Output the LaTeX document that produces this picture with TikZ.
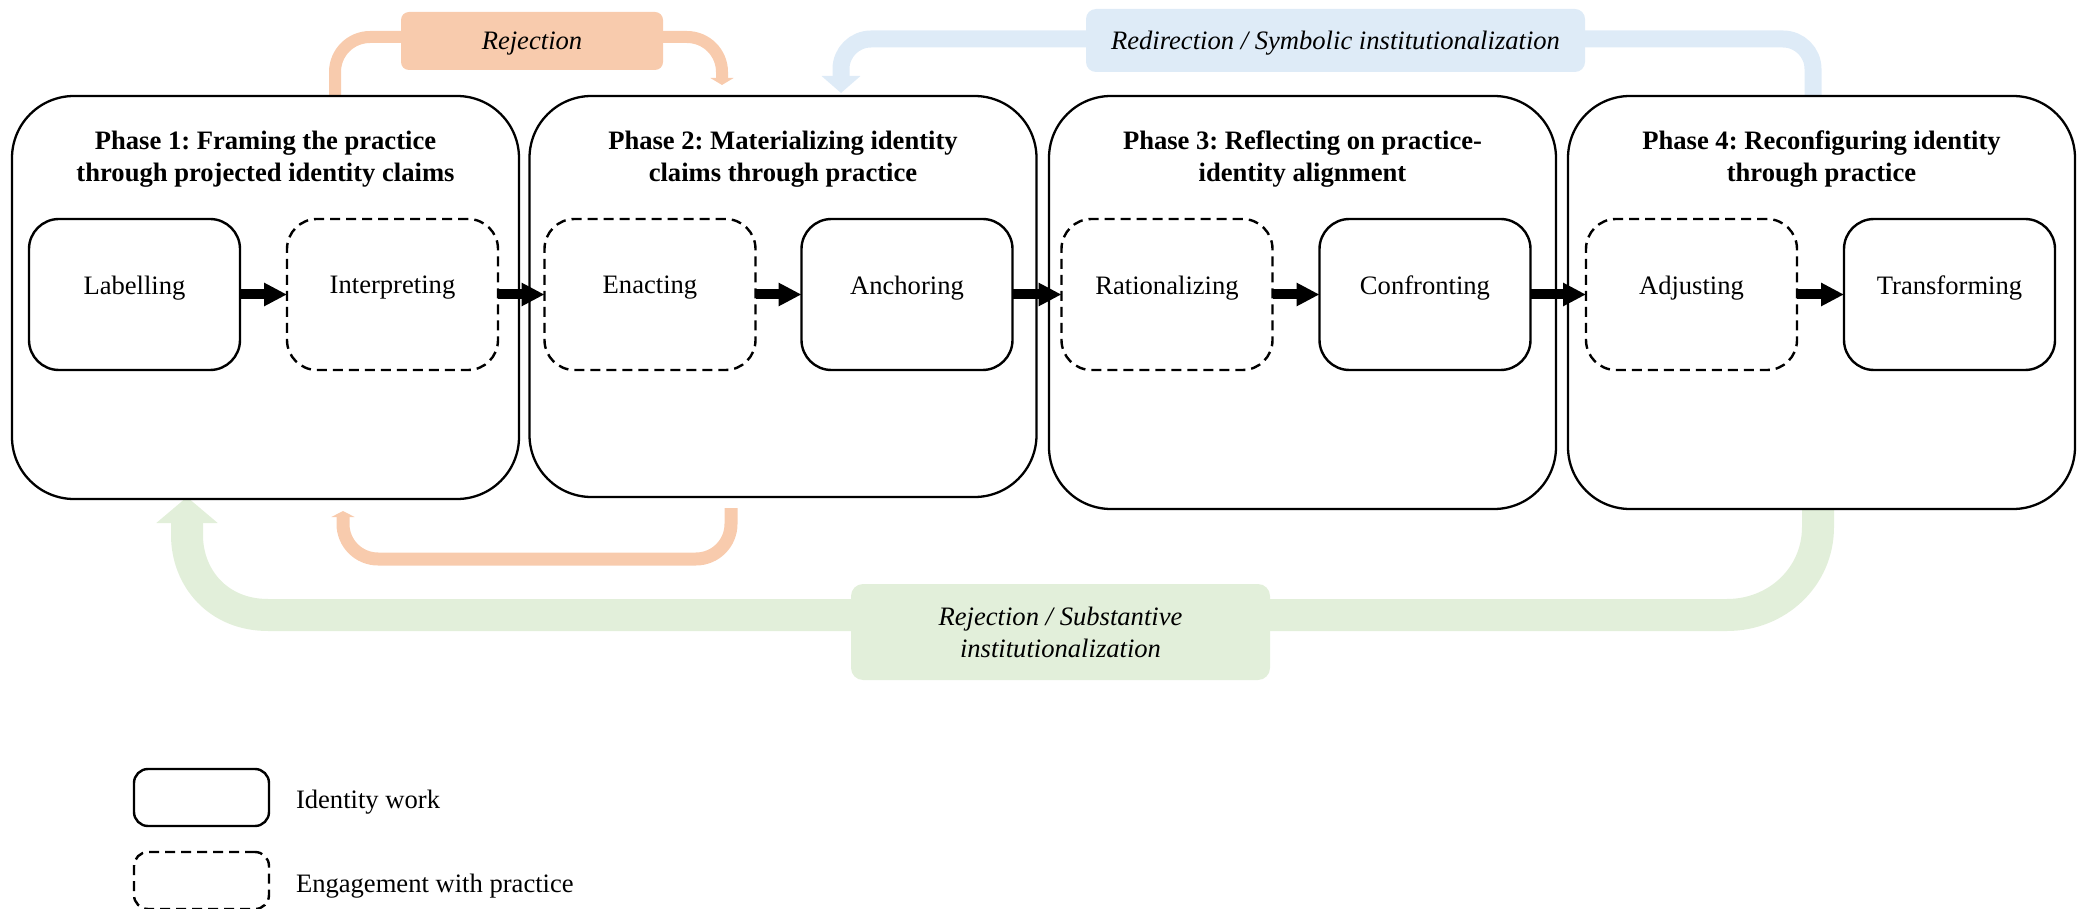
\documentclass[tikz,border=0pt]{standalone}
\usepackage{fontspec}
\setmainfont{Liberation Serif}
\usetikzlibrary{arrows.meta,calc}
\definecolor{orng}{HTML}{F8CBAD}
\definecolor{blu}{HTML}{DEEBF7}
\definecolor{grn}{HTML}{E2EFDA}
\pgfdeclarelayer{bg}
\pgfsetlayers{bg,main}
\begin{document}
\frenchspacing
\begin{tikzpicture}[x=0.5pt,y=-0.5pt,
  every node/.style={font=\fontsize{13.3pt}{16pt}\selectfont, inner sep=0pt, outer sep=0pt},
  phasebox/.style={draw, line width=1.15pt, fill=white, rounded corners=31pt, minimum width=253.5pt},
  title/.style={font=\fontsize{13.3pt}{16pt}\selectfont\bfseries, align=center},
  idbox/.style={draw, line width=1.2pt, fill=white, rounded corners=15pt, minimum width=105.5pt, minimum height=75.5pt},
  engbox/.style={idbox, dash pattern=on 5pt off 3pt},
  blk/.style={line width=5pt, -{Triangle[length=11.5pt,width=11pt]}},
  lbl/.style={},
  ilbl/.style={font=\fontsize{13.3pt}{16pt}\selectfont\itshape, align=center}
]
\useasboundingbox (0,0) rectangle (2085,909);

% phase boxes
\node[phasebox, minimum height=201.5pt] (p1) at (265.5,297.5) {};
\node[phasebox, minimum height=200.5pt] (p2) at (783,296.5) {};
\node[phasebox, minimum height=206.5pt] (p3) at (1302.5,302.5) {};
\node[phasebox, minimum height=206.5pt] (p4) at (1821.5,302.5) {};

\node[title] (t1) at (265.5,159) {Phase 1: Framing the practice\\through projected identity claims};
\node[title] (t2) at (783,159) {Phase 2: Materializing identity\\claims through practice};
\node[title] (t3) at (1302.5,159) {Phase 3: Reflecting on practice-\\identity alignment};
\node[title] (t4) at (1821.5,159) {Phase 4: Reconfiguring identity\\through practice};

% inner boxes
\node[idbox]  (lab) at (134.5,294.5) {};
\node[engbox] (int) at (392.5,294.5) {};
\node[engbox] (ena) at (650,294.5) {};
\node[idbox]  (anc) at (907,294.5) {};
\node[engbox] (rat) at (1167,294.5) {};
\node[idbox]  (con) at (1425,294.5) {};
\node[engbox] (adj) at (1691.5,294.5) {};
\node[idbox]  (tra) at (1949.5,294.5) {};

\node[lbl] (lab-t) at (134.5,288) {Labelling};
\node[lbl] (int-t) at (392.5,288) {Interpreting};
\node[lbl] (ena-t) at (650,288) {Enacting};
\node[lbl] (anc-t) at (907,288) {Anchoring};
\node[lbl] (rat-t) at (1167,288) {Rationalizing};
\node[lbl] (con-t) at (1425,288) {Confronting};
\node[lbl] (adj-t) at (1691.5,288) {Adjusting};
\node[lbl] (tra-t) at (1949.5,288) {Transforming};

\draw[blk] (lab.east) -- (int.west);
\draw[blk] (int.east) -- (ena.west);
\draw[blk] (ena.east) -- (anc.west);
\draw[blk] (anc.east) -- (rat.west);
\draw[blk] (rat.east) -- (con.west);
\draw[blk] (con.east) -- (adj.west);
\draw[blk] (adj.east) -- (tra.west);

% feedback bands
\begin{pgfonlayer}{bg}
\draw[orng, line width=6pt, rounded corners=17.5pt, -{Triangle[length=3.5pt,width=11.5pt]}]
  ($(p1.north)+(69.5,4)$) -- (335,37) -- (722,37) -- ($(p2.north)+(-61,-11)$);
\draw[orng, line width=6.5pt, rounded corners=17.5pt, -{Triangle[length=3pt,width=11.5pt]}]
  ($(p2.south)+(-52,11)$) -- (731,559) -- (343,559) -- ($(p1.south)+(77.5,12)$);
\draw[blu, line width=8.5pt, rounded corners=15pt, -{Triangle[length=8.5pt,width=19pt]}]
  ($(p4.north)+(-8.5,4)$) -- (1813,39) -- (841,39) -- ($(p2.north)+(58,-3)$);
\draw[grn, line width=16pt, -{Triangle[length=13pt,width=30pt]}]
  ($(p4.south)+(-3.5,-4)$) -- (1818,527) .. controls (1818,577) and (1777,615) .. (1727,615)
  -- (268,615) .. controls (218,615) and (187,578) .. (187,535) -- ($(p1.south)+(-78.5,-2)$);
\node[fill=orng, rounded corners=4pt, minimum width=131pt, minimum height=29pt, text depth=0pt, ilbl] (rej) at (532,41) {Rejection};
\node[fill=blu, rounded corners=5pt, minimum width=249.5pt, minimum height=31.5pt, text depth=0pt, ilbl] (red) at (1335.5,40.5) {Redirection / Symbolic institutionalization};
\node[fill=grn, rounded corners=6pt, minimum width=209.5pt, minimum height=48pt, ilbl] (sub) at (1060.5,632) {Rejection / Substantive\\institutionalization};
\end{pgfonlayer}

% legend
\node[idbox, minimum width=67.5pt, minimum height=28.5pt, rounded corners=7pt] (leg1) at (201.5,797.5) {};
\node[anchor=west] (leg1-t) at (296,802) {Identity work};
\node[engbox, minimum width=67.5pt, minimum height=28.5pt, rounded corners=7pt] (leg2) at (201.5,880.5) {};
\node[anchor=west] (leg2-t) at (296,886) {Engagement with practice};
\end{tikzpicture}
\end{document}
